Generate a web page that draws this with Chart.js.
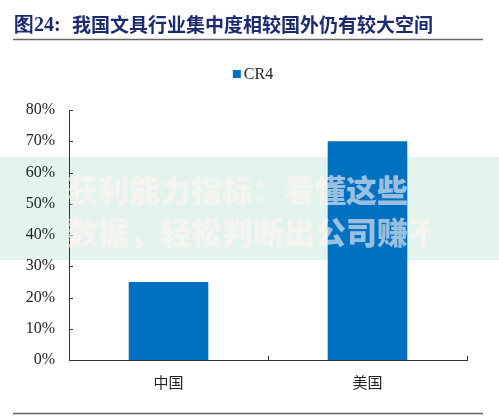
<!DOCTYPE html>
<html>
<head>
<meta charset="utf-8">
<style>
  html, body { margin: 0; padding: 0; background: #fff; }
  #wrap { width: 499px; height: 418px; position: relative; }
</style>
</head>
<body>
<div id="wrap"><canvas id="cr4Chart"></canvas></div>
<script src="https://cdn.jsdelivr.net/npm/chart.js"></script>
<script>
  const categories = ['中国', '美国'];
  const cr4Values = [25, 70];
  const yTicks = [0, 10, 20, 30, 40, 50, 60, 70, 80];
  const seriesName = 'CR4';
  const titleNo = '图24:';
  const titleText = '我国文具行业集中度相较国外仍有较大空间';
  const watermarkLines = ['获利能力指标：看懂这些', '数据，轻松判断出公司赚不赚钱'];

  (() => {
    const canvas = document.getElementById('cr4Chart');
    const ctx = canvas.getContext('2d');
    const serif = '"Liberation Serif", "Times New Roman", serif';
    const cjk = '"Noto Sans CJK SC", sans-serif';

    // page decorations: title, rules, legend, inward ticks, watermark band
    const decor = {
      id: 'decor',
      beforeDraw(chart) {
        const c = chart.ctx;
        c.save();
        c.fillStyle = '#e3f4ec';
        c.fillRect(0, 157, chart.width, 103);
        c.restore();
      },
      afterDatasetsDraw(chart) {
        const c = chart.ctx;
        const x = chart.scales.x, y = chart.scales.y;
        c.save();
        c.strokeStyle = '#333';
        c.lineWidth = 1;
        c.beginPath();
        yTicks.forEach(v => {
          const py = Math.round(y.getPixelForValue(v)) + 0.5;
          c.moveTo(x.left, py);
          c.lineTo(x.left + 4, py);
        });
        const n = categories.length;
        for (let i = 0; i <= n; i++) {
          const px = Math.round(x.left + (x.right - x.left) * i / n) + 0.5;
          c.moveTo(px, y.bottom);
          c.lineTo(px, y.bottom - 4);
        }
        c.stroke();
        c.restore();
      },
      afterDraw(chart) {
        const c = chart.ctx;
        const ds = chart.data.datasets[0];
        c.save();
        // title
        c.fillStyle = '#1c2a70';
        c.textBaseline = 'middle';
        c.font = 'bold 20px ' + serif;
        c.fillText(titleNo, 14, 26);
        c.font = 'bold 19px ' + cjk;
        c.fillText(titleText, 72, 25);
        // rules
        c.strokeStyle = '#666';
        c.lineWidth = 1.5;
        c.beginPath();
        c.moveTo(13, 39.5); c.lineTo(483, 39.5);
        c.moveTo(13, 413.5); c.lineTo(483, 413.5);
        c.stroke();
        // legend
        c.font = '16px ' + serif;
        const tw = c.measureText(ds.label).width;
        const lx = 253 - (tw + 11) / 2;
        c.fillStyle = ds.backgroundColor;
        c.fillRect(lx, 70, 8, 8);
        c.fillStyle = '#222';
        c.fillText(ds.label, lx + 11, 75);
        // watermark text
        c.beginPath();
        c.rect(0, 157, 430, 103);
        c.clip();
        c.fillStyle = 'rgba(255,245,245,0.6)';
        c.font = '900 31px ' + cjk;
        c.fillText(watermarkLines[0], 67, 190);
        c.fillText(watermarkLines[1], 67, 232);
        c.restore();
      }
    };

    const chart = new Chart(ctx, {
      type: 'bar',
      data: {
        labels: categories,
        datasets: [{
          label: seriesName,
          data: cr4Values,
          backgroundColor: '#0070C0',
          barPercentage: 0.4,
          categoryPercentage: 1.0
        }]
      },
      options: {
        responsive: true,
        maintainAspectRatio: false,
        animation: false,
        layout: { padding: { top: 110, right: 32, bottom: 0, left: 0 } },
        plugins: {
          legend: { display: false },
          tooltip: { enabled: false }
        },
        scales: {
          x: {
            offset: true,
            grid: { display: false, drawTicks: false },
            border: { display: true, color: '#333', width: 1 },
            ticks: { color: '#222', padding: 13, font: { family: cjk, size: 15 } },
            afterFit(scale) { scale.height = 58; }
          },
          y: {
            min: 0,
            max: 80,
            afterBuildTicks(scale) { scale.ticks = yTicks.map(v => ({ value: v })); },
            grid: { display: false, drawTicks: false },
            border: { display: true, color: '#333', width: 1 },
            ticks: {
              color: '#222',
              padding: 14,
              font: { family: serif, size: 16 },
              callback: v => v + '%'
            },
            afterFit(scale) { scale.width = 69; }
          }
        }
      },
      plugins: [decor]
    });
  })();
</script>
</body>
</html>
